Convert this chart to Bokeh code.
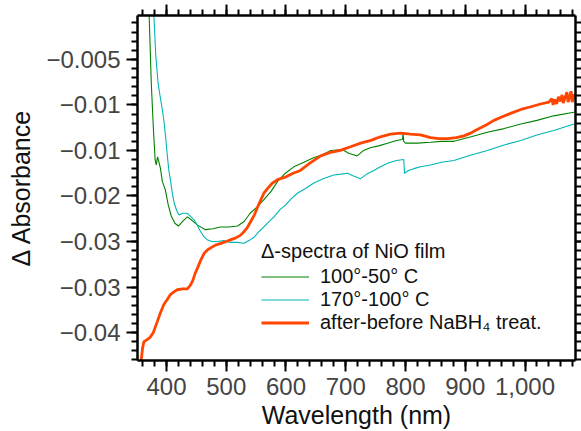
from bokeh.plotting import figure
from bokeh.models import Range1d, LinearAxis, FixedTicker, Legend, LegendItem, CustomJSTickFormatter
from bokeh.embed import file_html
from bokeh.resources import INLINE

# ---------------- data ----------------
green_nm = [369.5, 371, 374.5, 378, 381, 383, 385, 387.5, 390, 393, 398, 403, 408, 414, 420,
            427, 435, 443, 452, 465, 478, 490, 505, 519, 530, 540, 552, 563, 575, 586, 599,
            613, 630, 646, 660, 675, 694, 705, 719, 730, 741, 755, 770, 785, 795, 796, 797,
            800, 820, 842, 860, 881, 910, 937, 965, 993, 1020, 1048, 1082]
green_val = [0.001, -0.0002, -0.0075, -0.0125, -0.0160, -0.0166, -0.0157, -0.0163, -0.0170,
             -0.0184, -0.0193, -0.0210, -0.0222, -0.0230, -0.0233, -0.0228, -0.0223, -0.0227,
             -0.0232, -0.0237, -0.0236, -0.0234, -0.0234, -0.0233, -0.0228, -0.0219, -0.0212,
             -0.0204, -0.0195, -0.0184, -0.0175, -0.0168, -0.0163, -0.0158, -0.0155, -0.0150,
             -0.0149, -0.0153, -0.0156, -0.0150, -0.0147, -0.0145, -0.0142, -0.0139, -0.0138,
             -0.0131, -0.0140, -0.0142, -0.0142, -0.0141, -0.0140, -0.0140, -0.0135, -0.0130,
             -0.0126, -0.0121, -0.0117, -0.0112, -0.0108]

cyan_nm = [376.5, 379, 382, 385.8, 388, 390, 393, 396, 398.5, 401.3, 404, 407, 410, 413, 417,
           421, 427, 435, 441, 446, 452, 457, 463, 468, 476, 485, 496, 507, 518, 530, 538, 547,
           555, 563, 572, 580, 590, 599, 609, 619, 632, 646, 662, 680, 692, 703, 713, 725, 735,
           747, 758, 770, 785, 797, 798.5, 805, 814, 825, 842, 860, 881, 910, 937, 965, 993,
           1020, 1048, 1082]
cyan_val = [0.001, -0.0002, -0.0045, -0.0075, -0.0085, -0.0093, -0.0105, -0.0119, -0.0135,
            -0.0155, -0.0172, -0.0184, -0.0198, -0.0208, -0.0216, -0.0221, -0.0219, -0.0219,
            -0.0223, -0.0226, -0.0233, -0.0239, -0.0245, -0.0248, -0.0250, -0.0250, -0.0249,
            -0.0251, -0.0251, -0.0252, -0.0249, -0.0245, -0.0239, -0.0234, -0.0228, -0.0223,
            -0.0215, -0.0210, -0.0203, -0.0197, -0.0192, -0.0186, -0.0181, -0.0177, -0.0176,
            -0.0175, -0.0178, -0.0181, -0.0176, -0.0172, -0.0168, -0.0164, -0.0161, -0.0160,
            -0.0175, -0.0172, -0.0170, -0.0168, -0.0166, -0.0163, -0.0161, -0.0155, -0.0150,
            -0.0144, -0.0139, -0.0133, -0.0128, -0.0121]

orange_nm = [355.5, 358, 360, 362.3, 367, 373, 378, 384.6, 390, 395.8, 401, 407, 413, 418, 427,
             435, 440, 444, 448, 452, 457, 463, 469, 474, 482, 491, 500, 508, 516, 524, 530, 535,
             541, 547, 552, 558, 563, 569, 577, 586, 600, 612, 624, 640, 658, 675, 691, 708, 725,
             742, 758, 775, 792, 808, 825, 842, 856, 870, 885, 898, 909, 920, 935, 948, 962, 977,
             993, 1010, 1026, 1040, 1045, 1047, 1050, 1053, 1056, 1059, 1062, 1064, 1067, 1070,
             1072, 1075, 1077, 1079, 1082]
orange_val = [-0.0395, -0.0379, -0.0367, -0.0360, -0.0358, -0.0355, -0.0350, -0.0338, -0.0328,
              -0.0319, -0.0314, -0.0308, -0.0305, -0.0303, -0.0302, -0.0302, -0.0298, -0.0293,
              -0.0285, -0.0279, -0.0271, -0.0263, -0.0259, -0.0257, -0.0254, -0.0252, -0.0250,
              -0.0248, -0.0246, -0.0243, -0.0239, -0.0235, -0.0228, -0.0221, -0.0213, -0.0204,
              -0.0197, -0.0192, -0.0186, -0.0182, -0.0179, -0.0175, -0.0172, -0.0164, -0.0156,
              -0.0152, -0.0150, -0.0146, -0.0142, -0.0139, -0.0135, -0.0132, -0.0131, -0.0132,
              -0.0133, -0.0136, -0.0137, -0.0137, -0.0136, -0.0134, -0.0131, -0.0127, -0.0122,
              -0.0117, -0.0113, -0.0109, -0.0105, -0.0102, -0.0099, -0.0097, -0.0093, -0.0100,
              -0.0094, -0.0099, -0.0091, -0.0096, -0.0089, -0.0098, -0.0092, -0.0086, -0.0097,
              -0.0090, -0.0085, -0.0097, -0.0088]

series_labels = ["100°-50° C", "170°-100° C", "after-before NaBH₄ treat."]
legend_title = "Δ-spectra of NiO film"

x_ticks = [400, 500, 600, 700, 800, 900, 1000]
x_tick_labels = ["400", "500", "600", "700", "800", "900", "1,000"]
x_minor = list(range(360, 1085, 20))
y_ticks = [-0.035, -0.030, -0.025, -0.020, -0.015, -0.010, -0.005]
y_tick_labels = ["−0.04", "−0.03", "−0.03", "−0.02", "−0.01", "−0.01", "−0.005"]
y_minor = [round(-0.038 + 0.001 * i, 3) for i in range(38)]

# ---------------- figure ----------------
FONT = "Liberation Sans"
p = figure(width=581, height=431, output_backend="svg", toolbar_location=None,
           x_range=Range1d(351.5, 1084.5), y_range=Range1d(-0.03807, -0.00018),
           min_border_left=137, min_border_right=6, min_border_top=15, min_border_bottom=70)
p.xgrid.visible = False
p.ygrid.visible = False
p.outline_line_color = None
p.background_fill_color = "white"
p.border_fill_color = "white"

r1 = p.line(green_nm, green_val, line_color="#008000", line_width=1.1)
r2 = p.line(cyan_nm, cyan_val, line_color="#00b5b5", line_width=1.1)
r3 = p.line(orange_nm, orange_val, line_color="#ff4500", line_width=2.8)

xt = FixedTicker(ticks=x_ticks, minor_ticks=x_minor)
yt = FixedTicker(ticks=y_ticks, minor_ticks=y_minor)

def style(ax, ticker):
    ax.ticker = ticker
    ax.axis_line_width = 2.5
    ax.axis_line_color = "black"
    ax.major_tick_line_width = 2
    ax.minor_tick_line_width = 2
    ax.major_tick_line_color = "black"
    ax.minor_tick_line_color = "black"
    ax.major_tick_in = 0
    ax.minor_tick_in = 0
    ax.major_tick_out = 11
    ax.minor_tick_out = 6
    ax.major_label_text_font = FONT
    ax.major_label_text_font_size = "24px"
    ax.major_label_text_color = "#444444"
    ax.axis_label_text_font = FONT
    ax.axis_label_text_font_size = "25px"
    ax.axis_label_text_font_style = "normal"
    ax.axis_label_text_color = "#111111"

xa = p.xaxis[0]
style(xa, xt)
xa.major_label_overrides = dict(zip(x_ticks, x_tick_labels))
xa.major_label_standoff = 6
xa.axis_label = "Wavelength (nm)"
xa.axis_label_standoff = 3

ya = p.yaxis[0]
style(ya, yt)
ya.major_label_overrides = dict(zip(y_ticks, y_tick_labels))
ya.major_label_standoff = 6
ya.axis_label = "Δ Absorbance"
ya.axis_label_standoff = 8

blank = CustomJSTickFormatter(code="return ''")
top = LinearAxis()
style(top, xt)
top.formatter = blank
top.major_label_standoff = 0
p.add_layout(top, "above")

right = LinearAxis()
style(right, yt)
right.formatter = blank
right.major_label_standoff = 0
right.major_tick_out = 6
p.add_layout(right, "right")

legend = Legend(items=[LegendItem(label=series_labels[0], renderers=[r1]),
                       LegendItem(label=series_labels[1], renderers=[r2]),
                       LegendItem(label=series_labels[2], renderers=[r3])],
                location=(124, 26), title=legend_title)
legend.padding = 2
legend.margin = 0
legend.spacing = 0
legend.glyph_width = 48
legend.glyph_height = 21
legend.label_height = 21
legend.label_standoff = 11
legend.label_text_font = FONT
legend.label_text_font_size = "20px"
legend.label_text_color = "#111111"
legend.title_text_font = FONT
legend.title_text_font_size = "20px"
legend.title_text_font_style = "normal"
legend.title_text_color = "#111111"
legend.title_standoff = 2
legend.background_fill_alpha = 0
legend.border_line_color = None
p.add_layout(legend)

open("out.html", "w").write(file_html(p, INLINE))
